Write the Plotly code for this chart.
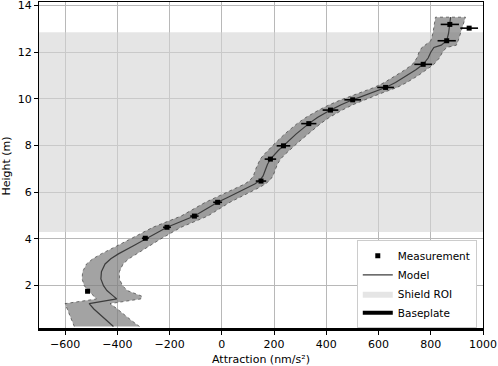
import plotly.graph_objects as go

# measurements (height in m, attraction in nm/s^2, 1-sigma error)
meas_height = [1.76, 4.03, 4.50, 4.98, 5.57, 6.48, 7.42, 7.99, 8.94, 9.52, 9.96, 10.49, 11.48, 12.49, 13.19, 13.03]
meas_attr = [-514, -293, -210, -105, -16, 150, 186, 236, 333, 416, 501, 627, 771, 861, 873, 947]
meas_err = [8, 13, 15, 16, 17, 20, 22, 26, 29, 30, 32, 32, 34, 35, 35, 34]

# model curve and its uncertainty band (lower / upper edge)
model_height = [0.25, 0.50, 0.70, 1.00, 1.23,
                1.43, 1.55, 1.79, 2.00, 2.29, 2.60, 2.93, 3.15, 3.36, 3.70, 4.00, 4.50, 4.98,
                5.57, 5.80, 6.00, 6.20, 6.35, 6.50, 6.70, 7.00, 7.20, 7.42, 7.60, 7.80, 7.99,
                8.20, 8.50, 8.94, 9.20, 9.52, 9.75, 9.96, 10.20, 10.49, 10.70, 11.00, 11.25,
                11.48, 11.75, 12.00, 12.20, 12.30, 12.49, 12.80, 13.19, 13.50]
model_attr = [-415, -440, -463, -490, -508,
              -402, -415, -440, -453, -463, -461, -447, -425, -396, -340, -293, -210, -105,
              -16, 26, 64, 102, 126, 145, 158, 168, 175, 186, 200, 217, 236,
              256, 285, 333, 366, 416, 457, 501, 556, 627, 665, 710, 743,
              771, 790, 800, 812, 840, 861, 868, 873, 876]
model_lo = [-565, -575, -582, -592, -600,
            -480, -490, -512, -527, -535, -533, -518, -494, -462, -402, -352, -264, -156,
            -63, -19, 21, 61, 87, 107, 121, 130, 137, 147, 160, 176, 194,
            213, 241, 288, 321, 371, 412, 456, 511, 583, 622, 668, 702,
            730, 747, 755, 766, 778, 800, 808, 815, 818]
model_hi = [-315, -345, -368, -400, -428,
            -310, -306, -362, -380, -392, -392, -378, -356, -330, -278, -234, -156, -54,
            31, 71, 107, 143, 166, 183, 196, 206, 213, 225, 240, 258, 278,
            299, 329, 378, 411, 461, 502, 546, 601, 671, 708, 752, 784,
            812, 833, 845, 860, 898, 905, 914, 925, 933]

# shield region of interest and baseplate
roi_bottom, roi_top = 4.3, 12.85
baseplate_height = 0.1

x_range = [-700, 1000]
y_range = [0.1, 14.15]
x_ticks = [-600, -400, -200, 0, 200, 400, 600, 800, 1000]
y_ticks = [2, 4, 6, 8, 10, 12, 14]

fig = go.Figure()

# shield ROI band
fig.add_trace(go.Scatter(
  x=[x_range[0], x_range[1], x_range[1], x_range[0], x_range[0]],
  y=[roi_bottom, roi_bottom, roi_top, roi_top, roi_bottom],
  fill='toself', fillcolor='rgba(211,211,211,0.6)', mode='lines',
  line=dict(width=0, color='rgba(211,211,211,0.6)'),
  name='Shield ROI', legendrank=3, hoverinfo='skip'
))

# model uncertainty
fig.add_trace(go.Scatter(
  x=model_lo + model_hi[::-1],
  y=model_height + model_height[::-1],
  fill='toself', fillcolor='rgba(128,128,128,0.72)', mode='lines',
  line=dict(width=0.8, color='rgba(50,50,50,0.8)', dash='dot'),
  showlegend=False, hoverinfo='skip'
))

fig.add_trace(go.Scatter(
  x=model_attr, y=model_height, mode='lines',
  line=dict(color='#3c3c3c', width=1.2),
  name='Model', legendrank=2
))

fig.add_trace(go.Scatter(
  x=meas_attr, y=meas_height, mode='markers',
  marker=dict(color='black', size=5, symbol='square'),
  error_x=dict(type='data', array=meas_err, color='black', thickness=1.6, width=0),
  name='Measurement', legendrank=1
))

fig.add_trace(go.Scatter(
  x=x_range, y=[baseplate_height, baseplate_height], mode='lines',
  line=dict(color='black', width=4),
  name='Baseplate', legendrank=4
))

axis_style = dict(
  showline=True, mirror=True, linecolor='black', linewidth=1,
  ticks='outside', ticklen=4, tickwidth=1, tickcolor='black',
  showgrid=True, gridcolor='#b8b8b8', gridwidth=0.8, zeroline=False,
  tickfont=dict(family='DejaVu Sans', size=11, color='black'),
  automargin=False, ticklabeloverflow='allow',
)

fig.update_xaxes(range=x_range, tickvals=x_ticks,
                 title=dict(text='Attraction (nm/s²)', standoff=6,
                            font=dict(family='DejaVu Sans', size=11, color='black')),
                 **axis_style)
fig.update_yaxes(range=y_range, tickvals=y_ticks,
                 title=dict(text='Height (m)', standoff=6,
                            font=dict(family='DejaVu Sans', size=11, color='black')),
                 **axis_style)

fig.update_layout(
  width=498, height=366,
  margin=dict(l=39, r=15, t=2, b=36),
  paper_bgcolor='white', plot_bgcolor='white',
  font=dict(family='DejaVu Sans', size=11, color='black'),
  legend=dict(x=0.986, y=0.005, xanchor='right', yanchor='bottom',
              bgcolor='white', bordercolor='#cccccc', borderwidth=1,
              font=dict(family='DejaVu Sans', size=10.5, color='black'),
              tracegroupgap=0, itemwidth=30),
  showlegend=True,
)

# the page body has a default margin; drop it so the figure sits at the corner
fig.write_html("out.html", config={'displayModeBar': False},
               post_script="document.body.style.margin = '0';")
